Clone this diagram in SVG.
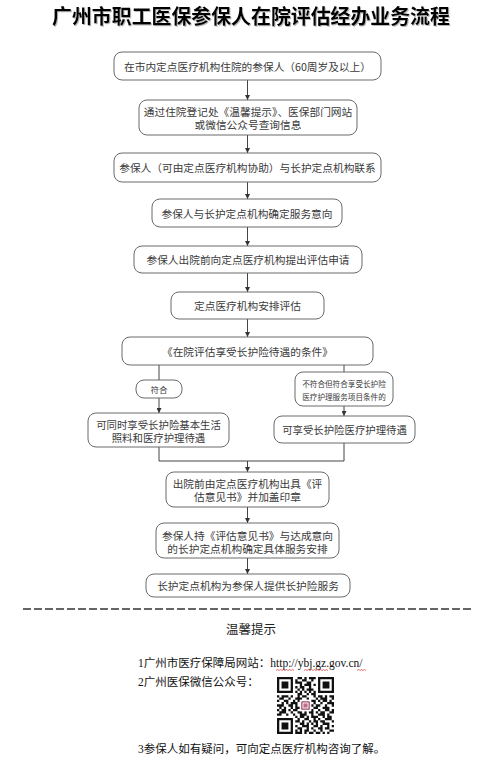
<svg xmlns="http://www.w3.org/2000/svg" width="500" height="780" viewBox="0 0 500 780">
<style>
.box{fill:#fff;stroke:#6a6a6a;stroke-width:1}
.t{font-family:"Noto Sans CJK SC",sans-serif;fill:#3a3a3a;text-anchor:middle;dominant-baseline:central;font-size:10.7px}
.c{stroke:#444;stroke-width:1;fill:none}
.a{marker-end:url(#ah)}
.s{font-family:"Liberation Serif","Noto Sans CJK SC",serif;font-size:11.5px;fill:#111}
.w{fill:none;stroke:#e03030;stroke-width:0.7}
</style>
<defs>
<marker id="ah" viewBox="0 0 6 6" refX="6" refY="3" markerWidth="5" markerHeight="5" markerUnits="userSpaceOnUse" orient="auto"><path d="M0,0L6,3L0,6z" fill="#333"/></marker>
<filter id="sh" x="-5%" y="-20%" width="110%" height="140%"><feDropShadow dx="1" dy="1" stdDeviation="0.6" flood-color="#888" flood-opacity="0.6"/></filter>
</defs>
<rect width="500" height="780" fill="#fff"/>
<text x="251" y="15" text-anchor="middle" dominant-baseline="central" font-family="Noto Sans CJK SC,sans-serif" font-weight="bold" font-size="19.9" fill="#000" filter="url(#sh)">广州市职工医保参保人在院评估经办业务流程</text>

<g id="connectors">
<line class="c a" x1="247.5" y1="80" x2="247.5" y2="100"/>
<line class="c a" x1="247.5" y1="135" x2="247.5" y2="153"/>
<line class="c a" x1="247.5" y1="182" x2="247.5" y2="199"/>
<line class="c a" x1="247.5" y1="227" x2="247.5" y2="246"/>
<line class="c a" x1="247.5" y1="273" x2="247.5" y2="292"/>
<line class="c a" x1="247.5" y1="319" x2="247.5" y2="337"/>
<line class="c" x1="159" y1="365" x2="159" y2="380"/>
<line class="c a" x1="159" y1="398" x2="159" y2="413"/>
<line class="c" x1="344" y1="365" x2="344" y2="372"/>
<line class="c a" x1="344" y1="406" x2="344" y2="416"/>
<polyline class="c" points="159,447 159,461 344,461 344,443"/>
<line class="c a" x1="247.5" y1="461" x2="247.5" y2="472"/>
<line class="c a" x1="247.5" y1="507" x2="247.5" y2="523"/>
<line class="c a" x1="247.5" y1="558" x2="247.5" y2="574"/>
</g>

<g id="n1"><rect class="box" x="114" y="52" width="267" height="28" rx="8"/><text class="t" x="247.5" y="66">在市内定点医疗机构住院的参保人（60周岁及以上）</text></g>
<g id="n2"><rect class="box" x="139" y="100" width="218" height="35" rx="8"/><text class="t" x="248" y="111">通过住院登记处《温馨提示》、医保部门网站<tspan x="248" dy="13">或微信公众号查询信息</tspan></text></g>
<g id="n3"><rect class="box" x="114" y="153" width="267" height="29" rx="8"/><text class="t" x="247.5" y="167.5">参保人（可由定点医疗机构协助）与长护定点机构联系</text></g>
<g id="n4"><rect class="box" x="152" y="199" width="190" height="28" rx="8"/><text class="t" x="247" y="213">参保人与长护定点机构确定服务意向</text></g>
<g id="n5"><rect class="box" x="134" y="246" width="228" height="27" rx="8"/><text class="t" x="248" y="259.5">参保人出院前向定点医疗机构提出评估申请</text></g>
<g id="n6"><rect class="box" x="171" y="292" width="153" height="27" rx="8"/><text class="t" x="247.5" y="305.5">定点医疗机构安排评估</text></g>
<g id="n7"><rect class="box" x="122" y="337" width="251" height="28" rx="8"/><text class="t" x="247.5" y="351">《在院评估享受长护险待遇的条件》</text></g>
<g id="n8"><rect class="box" x="136" y="380" width="46" height="18" rx="8"/><text class="t" x="159" y="389" style="font-size:8.5px">符合</text></g>
<g id="n9"><rect class="box" x="295" y="372" width="98" height="34" rx="8"/><text class="t" x="344" y="383" style="font-size:7.6px">不符合但符合享受长护险<tspan x="344" dy="12.5">医疗护理服务项目条件的</tspan></text></g>
<g id="n10"><rect class="box" x="88" y="413" width="141" height="34" rx="8"/><text class="t" x="158.5" y="424" style="font-size:10.4px">可同时享受长护险基本生活<tspan x="158.5" dy="13">照料和医疗护理待遇</tspan></text></g>
<g id="n11"><rect class="box" x="274" y="416" width="141" height="27" rx="8"/><text class="t" x="344.5" y="429.5" style="font-size:10.4px">可享受长护险医疗护理待遇</text></g>
<g id="n12"><rect class="box" x="166" y="472" width="163" height="35" rx="8"/><text class="t" x="247.5" y="483.5">出院前由定点医疗机构出具《评<tspan x="247.5" dy="12.5">估意见书》并加盖印章</tspan></text></g>
<g id="n13"><rect class="box" x="156" y="523" width="183" height="35" rx="8"/><text class="t" x="247.5" y="535">参保人持《评估意见书》与达成意向<tspan x="247.5" dy="12.5">的长护定点机构确定具体服务安排</tspan></text></g>
<g id="n14"><rect class="box" x="146" y="574" width="204" height="23" rx="8"/><text class="t" x="248" y="585.5">长护定点机构为参保人提供长护险服务</text></g>

<line x1="23" y1="609" x2="474" y2="609" stroke="#333" stroke-width="1.3" stroke-dasharray="8,3"/>
<text x="251" y="628" text-anchor="middle" dominant-baseline="central" font-family="Noto Sans CJK SC,sans-serif" font-size="12.5" fill="#222">温馨提示</text>

<text class="s" x="138" y="667">1广州市医疗保障局网站：http://ybj.gz.gov.cn/</text>
<text class="s" x="138" y="686">2广州医保微信公众号：</text>
<text class="s" x="138" y="753">3参保人如有疑问，可向定点医疗机构咨询了解。</text>
<path class="w" d="M276,670.5l1.5,-1l1.5,1l1.5,-1l1.5,1l1.5,-1l1.5,1l1.5,-1l1.5,1l1.5,-1l1.5,1l1.5,-1l1.5,1M304,670.5l1.5,-1l1.5,1l1.5,-1l1.5,1l1.5,-1l1.5,1l1.5,-1l1.5,1l1.5,-1l1.5,1l1.5,-1l1.5,1l1.5,-1l1.5,1l1.5,-1l1.5,1M357,670.5l1.5,-1l1.5,1l1.5,-1l1.5,1l1.5,-1l1.5,1"/>

<g id="qr" transform="translate(277,677) scale(2.28)">
<rect x="0" y="0" width="25" height="25" fill="#fff"/>
<path fill="#111" d="M0,0h7v7h-7zM1,1v5h5v-5zM2,2h3v3h-3zM18,0h7v7h-7zM19,1v5h5v-5zM20,2h3v3h-3zM0,18h7v7h-7zM1,19v5h5v-5zM2,20h3v3h-3z" fill-rule="evenodd"/>
<path fill="#111" d="M9,0h2v1h-2zM12,0h1v1h-1zM14,0h3v1h-3zM8,1h1v1h-1zM11,1h2v1h-2zM15,1h1v1h-1zM8,2h3v1h-3zM13,2h2v1h-2zM10,3h1v1h-1zM12,3h3v1h-3zM16,3h1v1h-1zM8,4h1v1h-1zM10,4h2v1h-2zM14,4h1v1h-1zM9,5h1v1h-1zM11,5h1v1h-1zM13,5h3v1h-3zM8,6h1v1h-1zM10,6h1v1h-1zM12,6h1v1h-1zM14,6h1v1h-1zM16,6h1v1h-1zM9,7h2v1h-2zM13,7h1v1h-1zM15,7h2v1h-2zM0,8h1v1h-1zM2,8h3v1h-3zM6,8h1v1h-1zM9,8h1v1h-1zM11,8h2v1h-2zM16,8h1v1h-1zM18,8h2v1h-2zM21,8h1v1h-1zM23,8h2v1h-2zM1,9h2v1h-2zM5,9h1v1h-1zM8,9h3v1h-3zM13,9h1v1h-1zM17,9h1v1h-1zM19,9h3v1h-3zM24,9h1v1h-1zM0,10h1v1h-1zM3,10h2v1h-2zM7,10h1v1h-1zM9,10h1v1h-1zM15,10h2v1h-2zM18,10h1v1h-1zM20,10h2v1h-2zM23,10h1v1h-1zM2,11h1v1h-1zM4,11h1v1h-1zM6,11h3v1h-3zM16,11h1v1h-1zM19,11h1v1h-1zM22,11h3v1h-3zM0,12h3v1h-3zM5,12h2v1h-2zM8,12h1v1h-1zM15,12h1v1h-1zM17,12h2v1h-2zM21,12h1v1h-1zM24,12h1v1h-1zM1,13h1v1h-1zM3,13h1v1h-1zM6,13h1v1h-1zM8,13h2v1h-2zM16,13h2v1h-2zM20,13h3v1h-3zM0,14h1v1h-1zM2,14h2v1h-2zM5,14h1v1h-1zM7,14h2v1h-2zM15,14h1v1h-1zM18,14h1v1h-1zM21,14h2v1h-2zM24,14h1v1h-1zM1,15h3v1h-3zM6,15h1v1h-1zM9,15h2v1h-2zM12,15h1v1h-1zM14,15h2v1h-2zM17,15h1v1h-1zM19,15h2v1h-2zM23,15h2v1h-2zM0,16h2v1h-2zM4,16h1v1h-1zM7,16h1v1h-1zM10,16h3v1h-3zM15,16h1v1h-1zM18,16h3v1h-3zM22,16h1v1h-1zM8,17h1v1h-1zM10,17h2v1h-2zM13,17h1v1h-1zM15,17h3v1h-3zM20,17h1v1h-1zM22,17h2v1h-2zM9,18h1v1h-1zM12,18h2v1h-2zM16,18h1v1h-1zM18,18h1v1h-1zM21,18h3v1h-3zM8,19h2v1h-2zM11,19h1v1h-1zM14,19h1v1h-1zM16,19h2v1h-2zM19,19h2v1h-2zM24,19h1v1h-1zM10,20h2v1h-2zM13,20h1v1h-1zM15,20h1v1h-1zM17,20h1v1h-1zM20,20h3v1h-3zM8,21h1v1h-1zM11,21h3v1h-3zM16,21h2v1h-2zM19,21h1v1h-1zM22,21h1v1h-1zM24,21h1v1h-1zM9,22h2v1h-2zM13,22h1v1h-1zM15,22h1v1h-1zM18,22h2v1h-2zM21,22h2v1h-2zM8,23h1v1h-1zM10,23h1v1h-1zM12,23h2v1h-2zM16,23h1v1h-1zM19,23h1v1h-1zM23,23h2v1h-2zM8,24h3v1h-3zM12,24h1v1h-1zM14,24h2v1h-2zM17,24h2v1h-2zM20,24h1v1h-1zM22,24h1v1h-1z"/>
<rect x="10" y="10" width="5" height="5" fill="#fff"/>
<rect x="10.5" y="10.5" width="4" height="4" rx="0.7" fill="#b8708a"/>
<path d="M11.4,11.4h2.2v2.2h-2.2z" fill="none" stroke="#fff" stroke-width="0.35"/>
</g>
</svg>
